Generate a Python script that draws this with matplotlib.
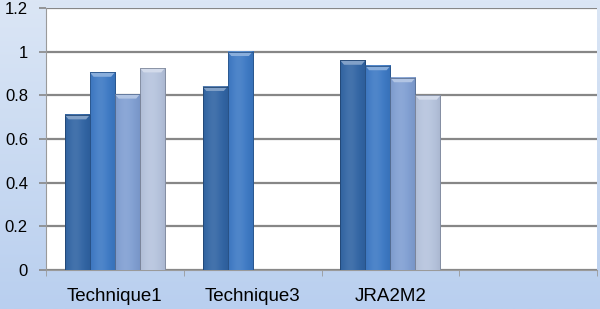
import numpy as np
import matplotlib
matplotlib.use("Agg")
import matplotlib.pyplot as plt
from matplotlib.colors import to_rgb

categories = ["Technique1", "Technique3", "JRA2M2", ""]
series1 = [0.71, 0.84, 0.96, np.nan]
series2 = [0.905, 1.00, 0.935, np.nan]
series3 = [0.805, np.nan, 0.88, np.nan]
series4 = [0.925, np.nan, 0.80, np.nan]
series_colors = ["#2f63a3", "#3b78c4", "#7f9ed2", "#b5c3dd"]
y_ticks = [0, 0.2, 0.4, 0.6, 0.8, 1, 1.2]
y_labels = ["0", "0.2", "0.4", "0.6", "0.8", "1", "1.2"]

plt.rcParams["font.family"] = ["Liberation Sans", "DejaVu Sans"]

fig = plt.figure(figsize=(6, 3.09), dpi=100)

# light blue gradient background behind everything
bg = fig.add_axes([0, 0, 1, 1], zorder=-10)
grad = np.linspace(0, 1, 256)[:, None]
top_c, bot_c = np.array(to_rgb("#dbe6f5")), np.array(to_rgb("#b9cfef"))
img = top_c[None, None, :] * (1 - grad[..., None]) + bot_c[None, None, :] * grad[..., None]
bg.imshow(img, aspect="auto", extent=[0, 1, 0, 1])
bg.set_axis_off()

ax = fig.add_axes([46 / 600, 39 / 309, 551 / 600, 262 / 309])
ax.set_facecolor("white")


def shaded_bar(ax, x0, width, height, color):
    """Excel-ish cylinder shading: darker edges, slightly lighter centre."""
    base = np.array(to_rgb(color))
    t = np.linspace(0, 1, 64)
    light = np.exp(-((t - 0.4) / 0.3) ** 2) * 0.10
    dark = (np.abs(t - 0.45) ** 2.5) * 0.30
    row = base[None, :] * (1 - dark[:, None]) + (1 - base[None, :]) * light[:, None]
    row = np.clip(row, 0, 1)
    ax.imshow(row[None, :, :], aspect="auto", extent=[x0, x0 + width, 0, height],
              zorder=3, interpolation="bilinear")
    # lighter bevel at the top
    cap = 0.02
    top = np.clip(base + (1 - base) * 0.4, 0, 1)
    ax.fill([x0, x0 + width, x0 + width * 0.85, x0 + width * 0.15],
            [height, height, height - cap, height - cap], color=top, zorder=4, lw=0)
    ax.plot([x0, x0, x0 + width, x0 + width], [0, height, height, 0],
            color=base * 0.7, lw=0.6, zorder=4)


all_series = [series1, series2, series3, series4]
w = 1 / 5.5
x = np.arange(len(categories))
for i, (vals, col) in enumerate(zip(all_series, series_colors)):
    for xi, v in zip(x, vals):
        if np.isnan(v):
            continue
        shaded_bar(ax, xi + (i - 2) * w, w, v, col)

ax.set_xlim(-0.5, len(categories) - 0.5)
ax.set_ylim(0, 1.2)
ax.set_yticks(y_ticks)
ax.set_yticklabels(y_labels, fontsize=12)
ax.yaxis.grid(True, color="#878787", lw=1.6)
ax.set_axisbelow(True)

ax.set_xticks(x)
ax.set_xticklabels(categories, fontsize=13.5)
ax.set_xticks(np.arange(len(categories) + 1) - 0.5, minor=True)
ax.tick_params(axis="x", which="major", length=0, pad=13)
ax.tick_params(axis="x", which="minor", length=4, color="#9a9a9a")
ax.tick_params(axis="y", length=5, color="#878787", width=1.2, pad=8)

for s in ["top", "right"]:
    ax.spines[s].set_visible(False)
ax.spines["left"].set_color("#9a9a9a")
ax.spines["bottom"].set_color("#9a9a9a")

fig.savefig("out.png", dpi=100)
